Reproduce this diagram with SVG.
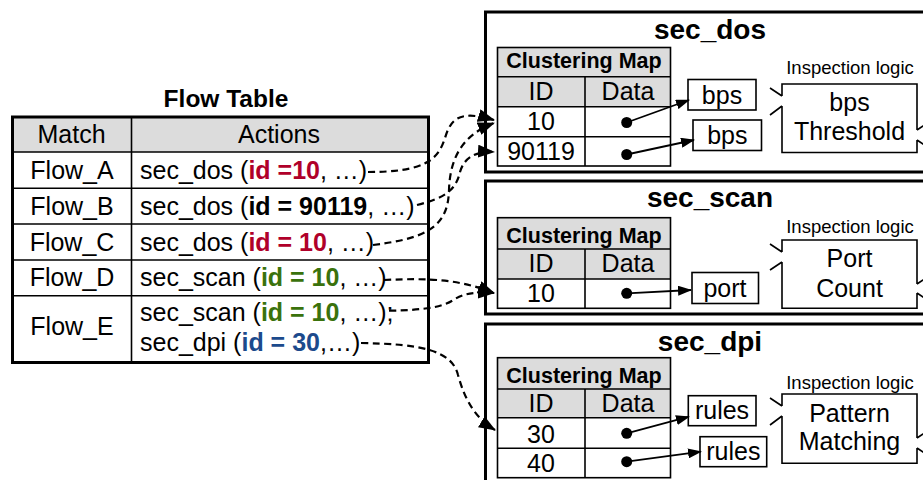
<svg xmlns="http://www.w3.org/2000/svg" width="923" height="480" viewBox="0 0 923 480">
<defs>
<style>
text{font-family:"Liberation Sans",Arial,Helvetica,sans-serif;fill:#000}
.t{font-size:25px}
.c{text-anchor:middle}
.b{font-weight:bold}
.h{font-size:24.5px;font-weight:bold;text-anchor:middle}
.ttl{font-size:28px;font-weight:bold;text-anchor:middle}
.cm{font-size:21.5px;font-weight:bold;text-anchor:middle}
.il{font-size:18.5px;text-anchor:middle}
.red{fill:#b0002a;font-weight:bold}
.grn{fill:#3a720c;font-weight:bold}
.blu{fill:#1c4a8c;font-weight:bold}
.thick{fill:none;stroke:#000;stroke-width:3}
.thin{fill:none;stroke:#000;stroke-width:1.6}
.gray{fill:#dcdcdc;stroke:none}
.dash{fill:none;stroke:#000;stroke-width:2.2;stroke-dasharray:7 4.5}
.ptr{fill:none;stroke:#000;stroke-width:1.8}
.logic{fill:#fff;stroke:#000;stroke-width:1.6}
</style>
<marker id="ah" viewBox="0 0 17 13" refX="16" refY="6.5" markerWidth="17" markerHeight="13" markerUnits="userSpaceOnUse" orient="auto">
<path d="M0,0 L17,6.5 L0,13 Z" fill="#000"/>
</marker>
<marker id="sh" viewBox="0 0 14 10" refX="13" refY="5" markerWidth="14" markerHeight="10" markerUnits="userSpaceOnUse" orient="auto">
<path d="M0,0 L14,5 L0,10 Z" fill="#000"/>
</marker>
</defs>
<rect width="923" height="480" fill="#fff"/>

<g id="flow-table">
<text x="226" y="107" class="h">Flow Table</text>
<rect x="12.5" y="117" width="416" height="35" class="gray"/>
<g class="thin">
<line x1="12.5" y1="152" x2="428.5" y2="152"/>
<line x1="12.5" y1="188.3" x2="428.5" y2="188.3"/>
<line x1="12.5" y1="224" x2="428.5" y2="224"/>
<line x1="12.5" y1="260" x2="428.5" y2="260"/>
<line x1="12.5" y1="295.7" x2="428.5" y2="295.7"/>
<line x1="131.5" y1="117" x2="131.5" y2="362.5"/>
</g>
<rect x="12.5" y="117" width="416" height="245.5" class="thick"/>
<text x="71.5" y="143.3" class="t c">Match</text>
<text x="279" y="143.3" class="t c">Actions</text>
<text x="72" y="179.3" class="t c">Flow_A</text>
<text x="72" y="215" class="t c">Flow_B</text>
<text x="72" y="250.7" class="t c">Flow_C</text>
<text x="72" y="286" class="t c">Flow_D</text>
<text x="72" y="335" class="t c">Flow_E</text>
<text x="140" y="179.3" class="t">sec_dos (<tspan class="red">id =10</tspan>, …)</text>
<text x="140" y="215" class="t">sec_dos (<tspan class="b">id = 90119</tspan>, …)</text>
<text x="140" y="250.7" class="t">sec_dos (<tspan class="red">id = 10</tspan>, …)</text>
<text x="140" y="286" class="t">sec_scan (<tspan class="grn">id = 10</tspan>, …)</text>
<text x="140" y="320.7" class="t">sec_scan (<tspan class="grn">id = 10</tspan>, …);</text>
<text x="140" y="350.7" class="t">sec_dpi (<tspan class="blu">id = 30</tspan>,…)</text>
</g>

<g id="sec_dos">
<rect x="485.5" y="12" width="460" height="160" class="thick"/>
<text x="710" y="39" class="ttl">sec_dos</text>
<rect x="497.5" y="47.5" width="173" height="59" class="gray"/>
<g class="thin">
<rect x="497.5" y="47.5" width="173" height="118.5"/>
<line x1="497.5" y1="76.7" x2="670.5" y2="76.7"/>
<line x1="497.5" y1="106.7" x2="670.5" y2="106.7"/>
<line x1="497.5" y1="136.7" x2="670.5" y2="136.7"/>
<line x1="585" y1="76.7" x2="585" y2="166"/>
</g>
<text x="584" y="68" class="cm">Clustering Map</text>
<text x="541" y="100" class="t c">ID</text>
<text x="628" y="100" class="t c">Data</text>
<text x="541" y="130" class="t c">10</text>
<text x="541" y="159.5" class="t c">90119</text>
<circle cx="626.7" cy="122.5" r="5.5"/>
<circle cx="626.7" cy="154.5" r="5.5"/>
<line x1="626.7" y1="122.5" x2="689" y2="100" class="ptr" marker-end="url(#sh)"/>
<line x1="626.7" y1="154.5" x2="694" y2="140" class="ptr" marker-end="url(#sh)"/>
<rect x="688" y="79.5" width="68" height="30.5" class="thin"/>
<text x="722" y="103.5" class="t c">bps</text>
<rect x="693" y="120" width="68.5" height="30.5" class="thin"/>
<text x="727.3" y="144" class="t c">bps</text>
<text x="850" y="74" class="il">Inspection logic</text>
<path d="M782,96 V84 H917 V130 M917,140 V152.5 H782 V106 M770,88 L782,96 M770,115 L782,106 M917,130 L929,122 M917,140 L929,148" class="logic" fill="none"/>
<text x="849.5" y="110.5" class="t c">bps</text>
<text x="849.5" y="140" class="t c">Threshold</text>
</g>

<g id="sec_scan">
<rect x="485.5" y="181" width="460" height="133" class="thick"/>
<text x="710" y="207" class="ttl">sec_scan</text>
<rect x="497.5" y="217.7" width="173" height="61.3" class="gray"/>
<g class="thin">
<rect x="497.5" y="217.7" width="173" height="90.6"/>
<line x1="497.5" y1="249" x2="670.5" y2="249"/>
<line x1="497.5" y1="279" x2="670.5" y2="279"/>
<line x1="585" y1="249" x2="585" y2="308.3"/>
</g>
<text x="584" y="243.3" class="cm">Clustering Map</text>
<text x="541" y="272.3" class="t c">ID</text>
<text x="628" y="272.3" class="t c">Data</text>
<text x="541" y="302.3" class="t c">10</text>
<circle cx="626.7" cy="293.3" r="5.5"/>
<line x1="626.7" y1="293.3" x2="691" y2="290" class="ptr" marker-end="url(#sh)"/>
<rect x="692" y="272.5" width="66.5" height="31" class="thin"/>
<text x="725" y="296.7" class="t c">port</text>
<text x="850" y="233.3" class="il">Inspection logic</text>
<path d="M782,252 V240 H917 V284 M917,293 V308.3 H782 V262 M770,244 L782,252 M770,270 L782,262 M917,284 L929,276 M917,293 L929,301" class="logic" fill="none"/>
<text x="849.5" y="266.7" class="t c">Port</text>
<text x="849.5" y="296.7" class="t c">Count</text>
</g>

<g id="sec_dpi">
<rect x="485.5" y="324" width="460" height="200" class="thick"/>
<text x="710" y="350.5" class="ttl">sec_dpi</text>
<rect x="497.5" y="357.7" width="173" height="60" class="gray"/>
<g class="thin">
<rect x="497.5" y="357.7" width="173" height="120"/>
<line x1="497.5" y1="389" x2="670.5" y2="389"/>
<line x1="497.5" y1="417.7" x2="670.5" y2="417.7"/>
<line x1="497.5" y1="448.3" x2="670.5" y2="448.3"/>
<line x1="585" y1="389" x2="585" y2="477.7"/>
</g>
<text x="584" y="383.3" class="cm">Clustering Map</text>
<text x="541" y="411.7" class="t c">ID</text>
<text x="628" y="411.7" class="t c">Data</text>
<text x="541" y="442.5" class="t c">30</text>
<text x="541" y="472" class="t c">40</text>
<circle cx="626.7" cy="433.3" r="5.5"/>
<circle cx="626.7" cy="461.7" r="5.5"/>
<line x1="626.7" y1="433.3" x2="689" y2="416.7" class="ptr" marker-end="url(#sh)"/>
<line x1="626.7" y1="461.7" x2="701" y2="451.7" class="ptr" marker-end="url(#sh)"/>
<rect x="688.3" y="395.7" width="67.7" height="30" class="thin"/>
<text x="722" y="419" class="t c">rules</text>
<rect x="700" y="436.7" width="66.7" height="30" class="thin"/>
<text x="733.3" y="460" class="t c">rules</text>
<text x="850" y="389" class="il">Inspection logic</text>
<path d="M782,406 V394 H917 V438 M917,448 V463.3 H782 V416 M770,398 L782,406 M770,425 L782,416 M917,438 L929,430 M917,448 L929,456" class="logic" fill="none"/>
<text x="849.5" y="422.3" class="t c">Pattern</text>
<text x="849.5" y="450" class="t c">Matching</text>
</g>

<g id="connectors">
<path d="M368,172 C 425,172 438,160 445,138 C 451,118 460,110 494,120" class="dash" marker-end="url(#ah)"/>
<path d="M373,245 C 430,238 448,225 449,190 C 450,155 465,134 494,123" class="dash" marker-end="url(#ah)"/>
<path d="M417,205 C 445,198 456,190 460,172 C 464,158 475,151 494,152" class="dash" marker-end="url(#ah)"/>
<path d="M384,280 C 430,278 458,279 494,293" class="dash" marker-end="url(#ah)"/>
<path d="M389,310.7 C 430,310 445,306 455,299 C 465,293 475,292 494,293" class="dash" marker-end="url(#ah)"/>
<path d="M361,343 C 420,344 452,350 458,375 C 465,400 475,418 495,430" class="dash" marker-end="url(#ah)"/>
</g>
</svg>
